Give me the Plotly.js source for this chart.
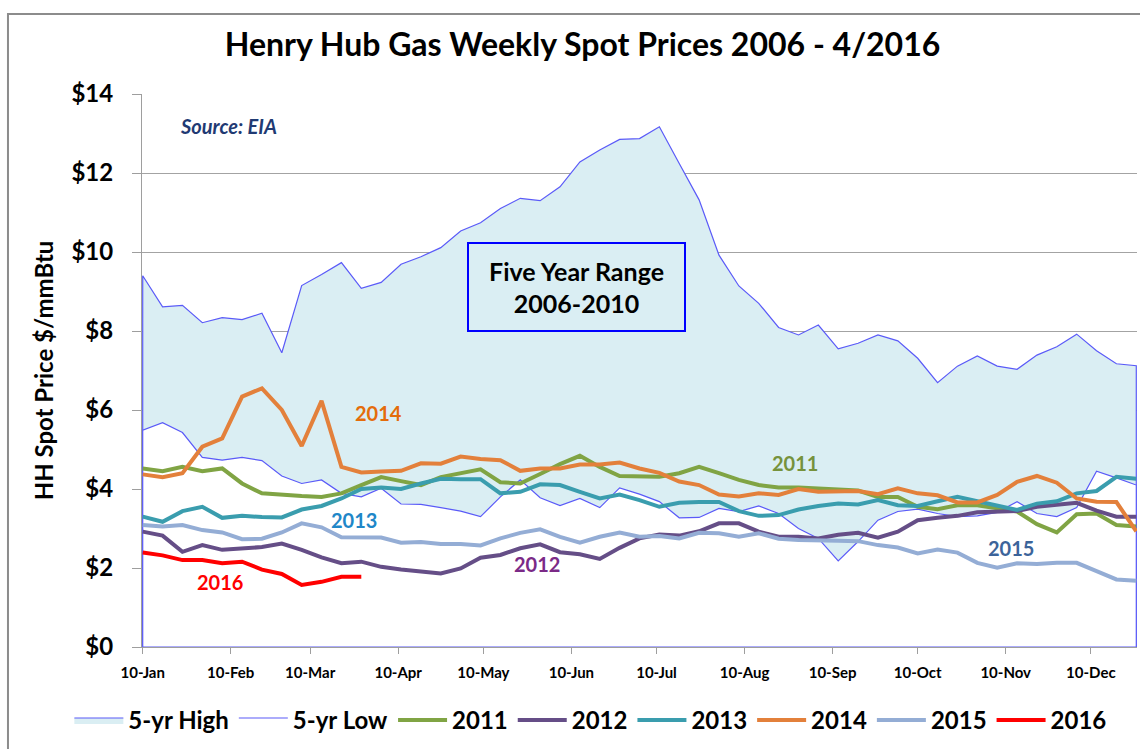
<!DOCTYPE html>
<html>
<head>
<meta charset="utf-8">
<script src="https://cdn.plot.ly/plotly-3.0.1.min.js"></script>
<style>
html,body{margin:0;padding:0;background:#fff;}
#chart{width:1140px;height:749px;}
</style>
</head>
<body>
<div id="chart"></div>
<script>
// Weekly dates (month-day positions within a generic year)
const weeks = [
 "2015-01-10","2015-01-17","2015-01-24","2015-01-31","2015-02-07","2015-02-14","2015-02-21","2015-02-28",
 "2015-03-07","2015-03-14","2015-03-21","2015-03-28","2015-04-04","2015-04-11","2015-04-18","2015-04-25",
 "2015-05-02","2015-05-09","2015-05-16","2015-05-23","2015-05-30","2015-06-06","2015-06-13","2015-06-20",
 "2015-06-27","2015-07-04","2015-07-11","2015-07-18","2015-07-25","2015-08-01","2015-08-08","2015-08-15",
 "2015-08-22","2015-08-29","2015-09-05","2015-09-12","2015-09-19","2015-09-26","2015-10-03","2015-10-10",
 "2015-10-17","2015-10-24","2015-10-31","2015-11-07","2015-11-14","2015-11-21","2015-11-28","2015-12-05",
 "2015-12-12","2015-12-19","2015-12-26"
];

const high5 = [9.40,8.61,8.65,8.21,8.34,8.29,8.45,7.45,9.15,9.43,9.73,9.08,9.23,9.69,9.88,10.11,10.53,10.74,11.10,11.36,11.30,11.65,12.28,12.58,12.85,12.87,13.17,12.24,11.32,9.92,9.14,8.70,8.09,7.90,8.15,7.55,7.69,7.90,7.75,7.31,6.69,7.11,7.37,7.11,7.03,7.39,7.60,7.92,7.50,7.17,7.12];
const low5 = [5.49,5.68,5.43,4.80,4.73,4.80,4.72,4.33,4.14,4.23,3.89,3.80,4.02,3.62,3.61,3.53,3.44,3.30,3.80,4.23,3.78,3.58,3.76,3.53,4.03,3.87,3.68,3.27,3.28,3.51,3.43,3.57,3.38,3.00,2.75,2.18,2.67,3.21,3.43,3.49,3.38,3.30,3.32,3.41,3.68,3.38,3.30,3.53,4.45,4.28,4.10];
const y2011 = [4.52,4.45,4.56,4.45,4.52,4.14,3.89,3.85,3.82,3.80,3.89,4.10,4.30,4.20,4.10,4.30,4.40,4.50,4.17,4.14,4.38,4.63,4.84,4.56,4.33,4.33,4.31,4.40,4.56,4.40,4.23,4.10,4.04,4.04,4.02,4.00,3.96,3.80,3.80,3.55,3.49,3.59,3.59,3.51,3.43,3.11,2.90,3.36,3.38,3.09,3.05];
const y2012 = [2.92,2.82,2.41,2.58,2.46,2.50,2.53,2.62,2.46,2.27,2.12,2.16,2.03,1.96,1.92,1.86,1.99,2.26,2.33,2.50,2.60,2.40,2.35,2.23,2.51,2.75,2.85,2.82,2.93,3.13,3.13,2.92,2.79,2.79,2.75,2.84,2.89,2.77,2.92,3.21,3.27,3.32,3.41,3.43,3.44,3.55,3.61,3.65,3.45,3.30,3.30];
const y2013 = [3.30,3.17,3.44,3.55,3.27,3.32,3.29,3.28,3.48,3.57,3.76,4.00,4.04,4.00,4.14,4.26,4.25,4.25,3.89,3.93,4.12,4.10,3.93,3.76,3.86,3.72,3.55,3.65,3.67,3.67,3.44,3.32,3.34,3.48,3.57,3.63,3.61,3.72,3.59,3.57,3.69,3.80,3.69,3.58,3.47,3.63,3.69,3.89,3.95,4.31,4.26];
const y2014 = [4.37,4.30,4.40,5.07,5.28,6.34,6.55,6.00,5.09,6.23,4.56,4.42,4.44,4.46,4.65,4.64,4.82,4.76,4.73,4.46,4.52,4.52,4.62,4.62,4.67,4.52,4.41,4.19,4.10,3.86,3.81,3.89,3.85,4.00,3.93,3.93,3.95,3.87,4.02,3.89,3.84,3.66,3.66,3.85,4.18,4.33,4.16,3.76,3.68,3.67,2.93];
const y2015 = [3.09,3.05,3.09,2.96,2.90,2.73,2.74,2.90,3.13,3.03,2.78,2.78,2.77,2.64,2.66,2.61,2.61,2.57,2.75,2.89,2.98,2.79,2.64,2.79,2.90,2.79,2.81,2.75,2.89,2.88,2.79,2.88,2.74,2.71,2.71,2.69,2.68,2.58,2.52,2.37,2.47,2.39,2.13,2.01,2.12,2.10,2.13,2.13,1.92,1.71,1.68];
const y2016 = [2.39,2.32,2.20,2.20,2.12,2.16,1.96,1.85,1.57,1.65,1.78,1.78];

const yearNames = ["2011","2012","2013","2014","2015","2016"];
const yearData = [y2011,y2012,y2013,y2014,y2015,y2016];
const yearColors = ["#80A444","#654E87","#3A9DAE","#E3803B","#94ADD5","#FF0000"];

const FONT = "Lato, 'Open Sans', sans-serif";
const areaLine = "#5A5AF8";

// closed outline for an area: baseline at zero at both ends
function areaTrace(name, vals, fill) {
  const first = weeks[0], last = weeks[weeks.length-1];
  return {
    type: "scatter", mode: "lines", name: name,
    x: [first].concat(weeks, [last, first]),
    y: [0].concat(vals, [0, 0]),
    fill: "toself", fillcolor: fill,
    line: {color: areaLine, width: 1.2},
    hoverinfo: "skip"
  };
}

const traces = [
  areaTrace("5-yr High", high5, "#DAEEF3"),
  areaTrace("5-yr Low", low5, "#FFFFFF")
];
yearNames.forEach((n, k) => {
  traces.push({
    type: "scatter", mode: "lines", name: n,
    x: weeks.slice(0, yearData[k].length), y: yearData[k],
    line: {color: yearColors[k], width: 4}
  });
});

function label(text, x, y, color, size) {
  return {text: text, xref: "paper", yref: "paper", x: x, y: y,
    showarrow: false, xanchor: "center", yanchor: "middle",
    font: {family: FONT, size: size || 20, color: color, weight: "bold"}};
}

const layout = {
  width: 1140, height: 749,
  margin: {l: 142, r: 3, t: 94, b: 102},
  paper_bgcolor: "#FFFFFF", plot_bgcolor: "rgba(0,0,0,0)",
  title: {text: "Henry Hub Gas Weekly Spot Prices 2006 - 4/2016",
    x: 0.511, xanchor: "center", y: 0.94, yanchor: "middle", yref: "container",
    font: {family: FONT, size: 32, color: "#000", weight: "bold"}},
  showlegend: true,
  legend: {orientation: "h", x: -0.073, xanchor: "left", y: -0.092, yanchor: "top",
    font: {family: FONT, size: 24, color: "#000", weight: "bold"},
    traceorder: "normal", itemwidth: 49, bgcolor: "rgba(0,0,0,0)"},
  xaxis: {type: "date",
    range: ["2015-01-09 18:00", "2015-12-26 06:00"],
    tick0: "2015-01-10", dtick: "M1", tickformat: "%d-%b",
    ticks: "outside", ticklen: 6, tickcolor: "#9E9E9E", ticklabelstandoff: 6,
    showline: true, linecolor: "#9E9E9E", linewidth: 1,
    showgrid: false, zeroline: false,
    tickfont: {family: FONT, size: 15, color: "#000", weight: "bold"}},
  yaxis: {range: [0, 14], dtick: 2, tick0: 0, tickprefix: "$",
    ticks: "outside", ticklen: 9, tickcolor: "#9E9E9E", ticklabelstandoff: 14,
    showline: true, linecolor: "#9E9E9E", linewidth: 1,
    showgrid: true, gridcolor: "#A3A3A3", gridwidth: 1, zeroline: false,
    tickfont: {family: FONT, size: 24, color: "#000", weight: "bold"},
    title: {text: "HH Spot Price $/mmBtu", standoff: 11,
      font: {family: FONT, size: 24, color: "#000", weight: "bold"}}},
  shapes: [
    {type: "rect", xref: "paper", yref: "paper", x0: -0.1347, x1: 1.05, y0: -0.3, y1: 1.1447,
     line: {color: "#8C8C8C", width: 2}, fillcolor: "rgba(0,0,0,0)", layer: "below"}
  ],
  annotations: [
    {text: "<i>Source: EIA</i>", xref: "paper", yref: "paper", x: 0.0874, y: 0.942,
     showarrow: false, xanchor: "center", yanchor: "middle",
     font: {family: FONT, size: 20, color: "#1F3A73", weight: "bold"}},
    {text: "Five Year Range<br>2006-2010", xref: "paper", yref: "paper", x: 0.4367, y: 0.651,
     showarrow: false, xanchor: "center", yanchor: "middle", width: 215, height: 86,
     bordercolor: "#0000FF", borderwidth: 2, borderpad: 0, align: "center",
     font: {family: FONT, size: 25, color: "#000", weight: "bold"}},
    label("2014", 0.2372, 0.4231, "#E46C0A"),
    label("2013", 0.2131, 0.2297, "#1F87C8"),
    label("2016", 0.0784, 0.1175, "#FF0000"),
    label("2012", 0.397, 0.150, "#7B2A87"),
    label("2011", 0.6563, 0.3327, "#76923C"),
    label("2015", 0.8734, 0.179, "#3C649A")
  ]
};

Plotly.newPlot("chart", traces, layout, {displayModeBar: false, staticPlot: true});
</script>
</body>
</html>
